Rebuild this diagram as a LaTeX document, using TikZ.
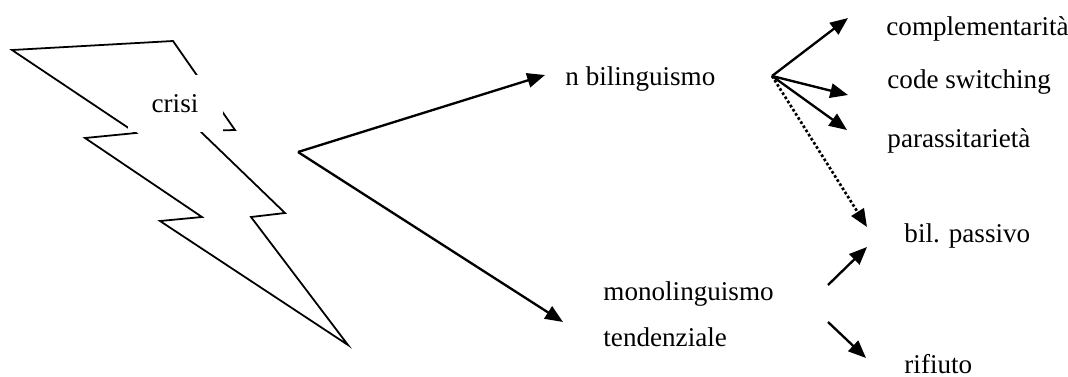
\documentclass[tikz,border=0pt]{standalone}
\usepackage{fontspec}
\setmainfont{Liberation Serif}
\usetikzlibrary{arrows.meta}

\begin{document}
\begin{tikzpicture}[x=0.45pt, y=-0.45pt,
    label/.style={anchor=base west, inner sep=0pt, font=\fontsize{12.2pt}{14pt}\selectfont},
    arr/.style={-{Triangle[length=8pt, width=6.5pt]}, line width=1.05pt}]
        \useasboundingbox (0, 0) rectangle (1068, 376);

        % lightning bolt
        \draw[line width=0.8pt, line join=miter] (12, 50) -- (173, 41) -- (235, 130) -- (200, 131) -- (285, 213) -- (251, 217)
            -- (348, 345) -- (160, 221) -- (202, 217) -- (85, 138) -- (136, 133) -- cycle;
        \node[fill=white, inner sep=0pt, minimum width=42.75pt, minimum height=25.6pt,
            font=\fontsize{12.2pt}{14pt}\selectfont] (crisi) at (175, 103.5) {crisi};

        % labels
        \node[label] (bilinguismo) at (565, 85) {n bilinguismo};
        \node[label] (monolinguismo) at (603, 300) {monolinguismo};
        \node[label] (tendenziale) at (603, 346) {tendenziale};
        \node[label] (complementarita) at (886, 35) {complementarità};
        \node[label] (codeswitching) at (887, 88) {code switching};
        \node[label] (parassitarieta) at (887, 147) {parassitarietà};
        \node[label] (passivo) at (904, 242) {bil. passivo};
        \node[label] (rifiuto) at (904, 373) {rifiuto};

        % branch points and arrow tips
        \coordinate (fork) at (298, 152);
        \coordinate (bilTip) at (545, 75);
        \coordinate (monoTip) at (563, 322);
        \coordinate (split) at (772, 76);
        \coordinate (compTip) at (848, 18);
        \coordinate (codeTip) at (848, 95);
        \coordinate (parTip) at (847, 130);
        \coordinate (dotTip) at (867, 227);
        \coordinate (upStart) at (828, 285);
        \coordinate (upTip) at (867, 247);
        \coordinate (downStart) at (828, 322);
        \coordinate (downTip) at (866, 358);

        \draw[arr] (fork) -- (bilTip);
        \draw[arr] (fork) -- (monoTip);

        \draw[arr] (split) -- (compTip);
        \draw[arr] (split) -- (codeTip);
        \draw[arr] (split) -- (parTip);
        \draw[arr, line width=1.2pt, dash pattern=on 1.2pt off 1pt] (split) -- (dotTip);

        \draw[arr] (upStart) -- (upTip);
        \draw[arr] (downStart) -- (downTip);

    \end{tikzpicture}
\end{document}
